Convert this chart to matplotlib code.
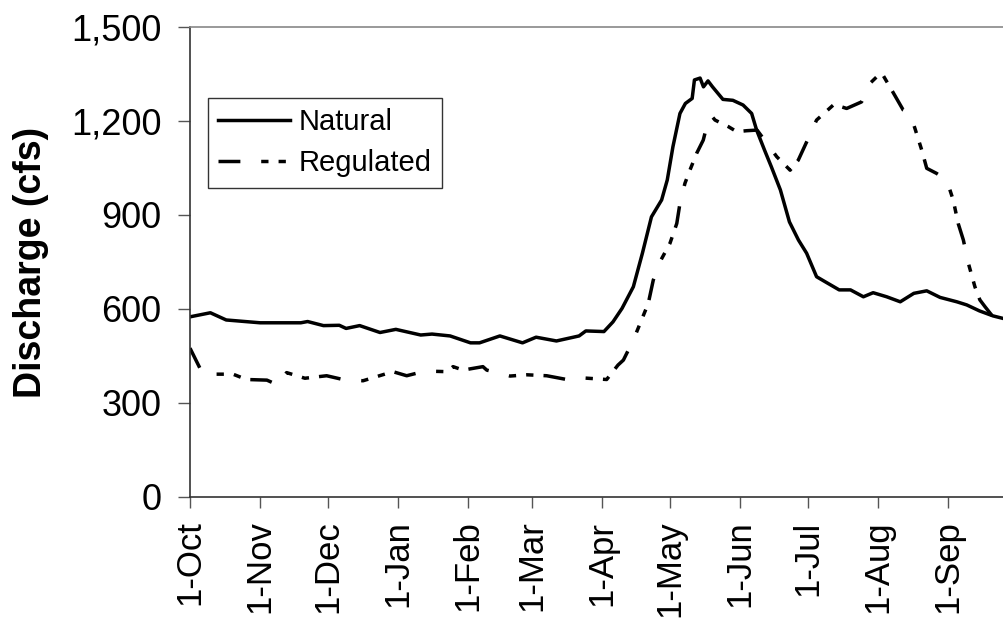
import matplotlib
matplotlib.use("Agg")
import matplotlib.pyplot as plt

plt.rcParams['font.family'] = ['Liberation Sans', 'DejaVu Sans']

# Day of water year (0 = 1-Oct)
natural_day = [0, 9, 16, 31, 49, 52, 59, 66, 69, 75, 84, 91, 102, 107, 115, 124, 128,
               137, 147, 153, 162, 172, 175, 183, 187, 191, 196, 200, 204, 208.5, 211,
               213.5, 216.6, 219, 222, 223, 225.5, 227, 229, 231, 235.6, 240, 244.5, 248.3,
               250.5, 254, 257, 261, 265, 269, 272.6, 277, 281.5, 287, 292, 297.7, 302,
               308, 314, 320, 325.7, 331.6, 339, 343.4, 349, 355, 359.4]
natural_q = [575, 588, 565, 556, 556, 560, 547, 548, 538, 547, 525, 535, 517, 520, 514, 492, 492,
             514, 492, 510, 498, 514, 530, 528, 559, 602, 671, 778, 894, 948, 1012,
             1118, 1224, 1256, 1272, 1331, 1337, 1309, 1328, 1309, 1269, 1266, 1251, 1224,
             1171, 1107, 1054, 980, 878, 820, 778, 703, 684, 661, 661, 639, 652,
             639, 623, 650, 658, 637, 623, 613, 594, 578, 570]

regulated_day = [0, 5.7, 11.8, 19, 25, 34, 39, 42.7, 50.8, 60.4, 67.6, 76.5, 89.7, 95.8, 104,
                 113.5, 116.3, 120.7, 129.5, 131.2, 141.5, 149, 157.7, 168, 173.7, 184.2, 189.2,
                 191.6, 196, 199, 202.6, 204.8, 207.8, 212.2, 215.2, 216.6, 218.8, 221, 224,
                 226.9, 228.4, 230.6, 232.1, 238, 241.7, 246.1, 250.7, 259.4, 265.3, 268.9,
                 273.3, 277, 284.7, 290.3, 296.9, 300.6, 303.6, 305.9, 310.2, 315.3, 318.3,
                 320.5, 323.5, 325.7, 330, 334.5, 337.4, 339.6, 341.9, 344.1, 347, 349.2,
                 351.5, 357.3, 358.8]
regulated_q = [475, 392, 392, 392, 375, 373, 357, 397, 379, 387, 375, 371, 400, 387, 402,
               400, 416, 405, 416, 405, 386, 390, 387, 373, 380, 375, 421,
               437, 501, 554, 618, 692, 751, 810, 873, 937, 1001, 1043, 1097,
               1139, 1182, 1216, 1203, 1182, 1166, 1169, 1171, 1086, 1043, 1075,
               1144, 1203, 1253, 1240, 1261, 1320, 1341, 1352, 1299, 1235, 1224,
               1176, 1107, 1049, 1033, 1012, 948, 873, 820, 746, 671, 629,
               607, 554, 530]

tick_days = [0, 31, 61, 92, 123, 151, 182, 212, 243, 273, 304, 335]
tick_labels = ['1-Oct', '1-Nov', '1-Dec', '1-Jan', '1-Feb', '1-Mar', '1-Apr',
               '1-May', '1-Jun', '1-Jul', '1-Aug', '1-Sep']
y_ticks = [0, 300, 600, 900, 1200, 1500]
y_labels = ['0', '300', '600', '900', '1,200', '1,500']

W, H = 1004, 623
fig = plt.figure(figsize=(W / 100, H / 100), dpi=100)
ax = fig.add_axes([190 / W, 1 - 497 / H, (W - 190) / W, (497 - 27) / H])

LW = 2.5
ax.plot(natural_day, natural_q, color='black', lw=LW, label='Natural',
        solid_joinstyle='round')
# dash pattern (in units of line width): long dash, gap, dot, gap, dot, gap
ax.plot(regulated_day, regulated_q, color='black', lw=LW, label='Regulated',
        linestyle=(0, (6.3, 6.0, 2.1, 2.9, 2.1, 2.9)), dash_capstyle='butt')

ax.set_xlim(0, (W - 190) / 2.262)
ax.set_ylim(0, 1500)
ax.set_xticks(tick_days)
ax.set_xticklabels(tick_labels, rotation=90, fontsize=25)
ax.set_yticks(y_ticks)
ax.set_yticklabels(y_labels, fontsize=26)
ax.tick_params(axis='y', direction='out', length=8.5, width=1, color='#555555', pad=12)
ax.tick_params(axis='x', direction='out', length=8, width=1, color='#555555', pad=9)

ax.spines['right'].set_visible(False)
ax.spines['top'].set_color('#888888')
ax.spines['top'].set_linewidth(1.2)
ax.spines['left'].set_color('#333333')
ax.spines['bottom'].set_color('#333333')
ax.spines['left'].set_linewidth(1.2)
ax.spines['bottom'].set_linewidth(1.2)

fig.text(31 / W, 1 - 262 / H, 'Discharge (cfs)', rotation=90, ha='center', va='center',
         fontsize=27, fontweight='bold')

leg = ax.legend(loc='upper left', bbox_to_anchor=(208 / W, 1 - 98 / H),
                bbox_transform=fig.transFigure, borderaxespad=0, fontsize=21,
                frameon=True, fancybox=False, edgecolor='black', handlelength=2.45,
                handletextpad=0.3, borderpad=0.35, labelspacing=0.45)
leg.get_frame().set_linewidth(1.0)

fig.savefig('out.png', dpi=100)
